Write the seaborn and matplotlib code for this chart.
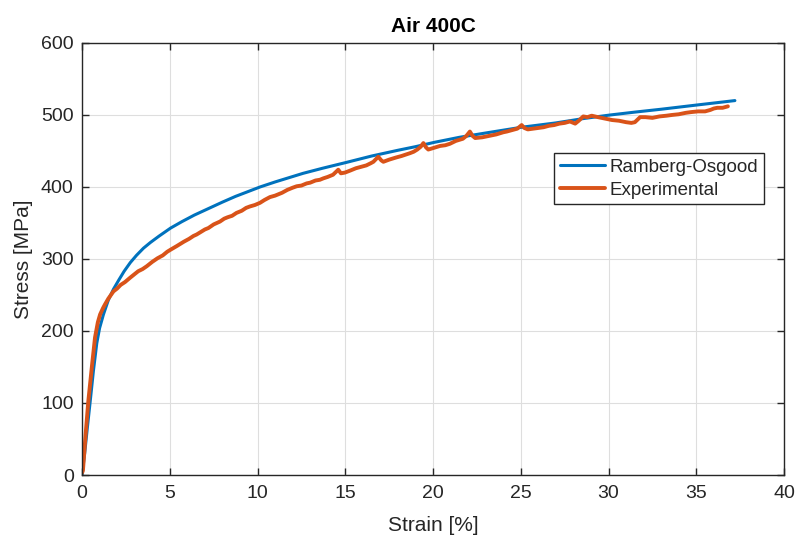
import numpy as np
import pandas as pd
import matplotlib
matplotlib.use("Agg")
import matplotlib.pyplot as plt
import seaborn as sns

# ---------------- data ----------------
ro_strain = [0.00, 0.15, 0.30, 0.46, 0.65, 0.84, 1.00, 1.22, 1.50, 1.79, 2.10,
             2.40, 2.75, 3.10, 3.50, 3.90, 4.40, 5.05, 5.70, 6.40, 7.20, 8.00,
             8.75, 9.50, 10.14, 11.0, 11.8, 12.6, 13.7, 15.04, 16.5, 18.0, 19.0,
             20.07, 21.5, 23.0, 25.05, 27.0, 28.56, 30.09, 31.5, 33.0, 35.08, 37.2]
ro_stress = [0, 30, 65, 101, 145, 183, 204, 223, 243, 258, 271,
             283, 295, 305, 315, 323, 332, 343, 352, 361, 370, 379,
             387, 394, 400, 407, 413, 419, 426, 434, 443, 451, 456,
             462, 469, 475, 483, 489, 495, 500, 504, 508, 514, 520]

exp_strain = [0.00, 0.05, 0.20, 0.36, 0.55, 0.74, 0.90, 1.03, 1.20, 1.31, 1.50,
              1.79, 2.00, 2.20, 2.45, 2.74, 3.00, 3.20, 3.45, 3.69, 4.00, 4.30,
              4.60, 4.85, 5.05, 5.40, 5.80, 6.10, 6.35, 6.53, 6.80, 7.00, 7.20,
              7.50, 7.86, 8.10, 8.30, 8.55, 8.80, 9.10, 9.35, 9.57, 9.85, 10.14,
              10.40, 10.71, 11.00, 11.20, 11.40, 11.70, 12.00, 12.23, 12.50,
              12.80, 13.00, 13.30, 13.55, 13.75, 14.00, 14.30, 14.60, 14.75,
              14.98, 15.30, 15.60, 15.90, 16.20, 16.45, 16.60, 16.88, 17.05,
              17.17, 17.50, 17.90, 18.20, 18.45, 18.69, 18.90, 19.10, 19.30,
              19.45, 19.60, 19.73, 20.00, 20.40, 20.70, 20.96, 21.30, 21.70,
              21.90, 22.10, 22.25, 22.40, 22.80, 23.20, 23.60, 24.00, 24.20,
              24.50, 24.80, 25.05, 25.20, 25.40, 25.70, 26.00, 26.30, 26.60,
              26.90, 27.20, 27.50, 27.80, 28.10, 28.30, 28.56, 28.80, 29.04,
              29.40, 29.80, 30.20, 30.60, 31.00, 31.30, 31.50, 31.80, 32.10,
              32.50, 32.90, 33.30, 33.60, 34.00, 34.40, 34.70, 35.10, 35.50,
              35.80, 36.00, 36.20, 36.50, 36.80]
exp_stress = [3, 6, 55, 103, 148, 191, 212, 223, 232, 237, 245,
              255, 259, 264, 268, 274, 279, 283, 286, 290, 296, 301,
              305, 310, 313, 318, 324, 328, 332, 334, 338, 341, 343,
              348, 352, 356, 358, 360, 364, 367, 371, 373, 375, 378,
              382, 386, 388, 390, 392, 396, 399, 401, 402,
              405, 406, 409, 410, 412, 414, 417, 424, 419,
              420, 423, 426, 428, 430, 433, 435, 442, 437,
              435, 438, 441, 443, 445, 447, 449, 452, 456,
              461, 455, 452, 454, 457, 458, 460, 464, 467,
              471, 477, 471, 468, 469, 471, 473, 476, 477,
              479, 481, 486, 482, 480, 481, 482, 483, 485,
              486, 488, 489, 491, 488, 492, 498, 497, 499,
              497, 495, 493, 492, 490, 489, 490, 497, 497,
              496, 498, 499, 500, 501, 503, 504, 505, 505,
              507, 509, 510, 510, 512]

series_names = ["Ramberg-Osgood", "Experimental"]
colors = ["#0072BD", "#D95319"]
x_ticks = [0, 5, 10, 15, 20, 25, 30, 35, 40]
y_ticks = [0, 100, 200, 300, 400, 500, 600]

df = pd.concat([
    pd.DataFrame({"Strain": ro_strain, "Stress": ro_stress, "series": series_names[0]}),
    pd.DataFrame({"Strain": exp_strain, "Stress": exp_stress, "series": series_names[1]}),
], ignore_index=True)

# ---------------- style ----------------
sns.set_style("ticks")
plt.rcParams["font.family"] = ["Liberation Sans", "DejaVu Sans"]
text_col = "#262626"

fig = plt.figure(figsize=(7.98, 5.38), dpi=100)
ax = fig.add_axes([0.1028, 0.1171, 0.8797, 0.8030])

for name, col, lw in zip(series_names, colors, [2.2, 2.8]):
    sub = df[df["series"] == name]
    sns.lineplot(data=sub, x="Strain", y="Stress", ax=ax, color=col,
                 linewidth=lw, label=name, estimator=None, sort=False)

ax.set_xlim(0, 40)
ax.set_ylim(0, 600)
ax.set_xticks(x_ticks)
ax.set_yticks(y_ticks)
ax.grid(True, color="#dedede", linewidth=0.8)
ax.set_axisbelow(True)
for s in ax.spines.values():
    s.set_visible(True)
    s.set_color(text_col)
    s.set_linewidth(1.0)
ax.tick_params(direction="in", length=5, width=1.0, colors=text_col,
               labelsize=14, top=True, right=True, pad=7)
ax.tick_params(axis="y", pad=6)

ax.set_xlabel("Strain [%]", fontsize=15, color=text_col, labelpad=10)
ax.set_ylabel("Stress [MPa]", fontsize=15, color=text_col, labelpad=6)
ax.set_title("Air 400C", fontsize=15, fontweight="bold", color="black", pad=8)

leg = ax.legend(loc="upper right", bbox_to_anchor=(0.9715, 0.745),
                fontsize=13.5, frameon=True, fancybox=False, framealpha=1,
                edgecolor=text_col, handlelength=2.4, handletextpad=0.25,
                labelspacing=0.3, borderpad=0.3, borderaxespad=0)
leg.get_frame().set_linewidth(1.0)
for t in leg.get_texts():
    t.set_color(text_col)

fig.savefig("out.png", dpi=100)
